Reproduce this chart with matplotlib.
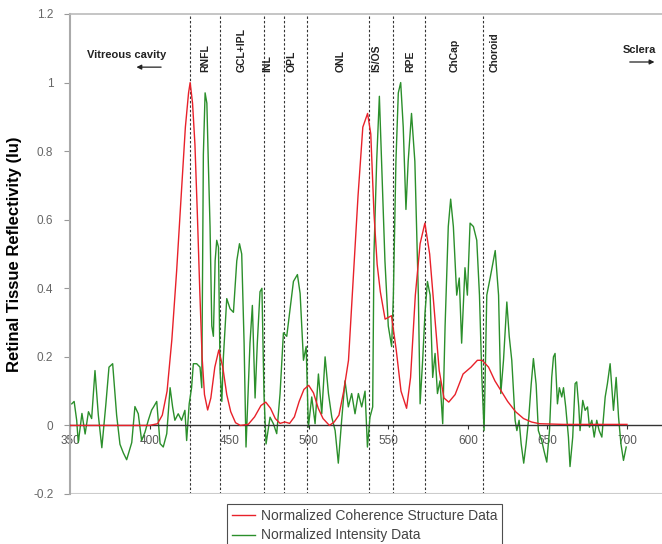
import matplotlib

matplotlib.use("Agg")
import matplotlib.pyplot as plt

# Normalized coherence structure data (red)
coherence_x = [350, 400, 405, 408, 411, 414, 417, 420, 422.5, 424.5, 425.5, 427, 428.5, 430,
               431.5, 433, 434.5, 436.5, 438.5, 441, 443.5, 446, 448.5, 451, 454, 457, 462, 466,
               470, 473, 476, 479, 482, 485, 488, 491, 494, 497, 500, 503, 506, 509, 513, 516,
               519, 522, 525, 528, 531, 534, 537, 539, 541, 543, 545, 548, 552, 555, 558, 561.5,
               564, 567, 570, 573, 576, 579, 582, 585, 588, 592, 597, 602, 606, 609, 613, 617,
               621, 625, 630, 635, 640, 645, 660, 700]
coherence_y = [0, 0, 0.005, 0.03, 0.10, 0.25, 0.45, 0.68, 0.87, 0.97, 1.0, 0.94, 0.82, 0.62,
               0.40, 0.20, 0.09, 0.045, 0.08, 0.17, 0.22, 0.17, 0.09, 0.04, 0.008, 0, 0.003, 0.025,
               0.058, 0.068, 0.05, 0.02, 0.006, 0.01, 0.006, 0.025, 0.07, 0.105, 0.117, 0.095,
               0.05, 0.02, 0, 0.01, 0.03, 0.1, 0.19, 0.43, 0.67, 0.87, 0.91, 0.85, 0.62, 0.47,
               0.39, 0.31, 0.32, 0.22, 0.10, 0.05, 0.14, 0.38, 0.53, 0.59, 0.50, 0.33, 0.16, 0.08,
               0.068, 0.09, 0.15, 0.17, 0.19, 0.19, 0.17, 0.13, 0.10, 0.07, 0.04, 0.02, 0.01,
               0.005, 0.003, 0.003]

# Normalized intensity data (green)
intensity_x = [351.1, 352.6, 354.2, 355.2, 357.5, 359.5, 361.6, 363.6, 365.7, 367.8, 370,
               372.5, 374.5, 376.8, 379.3, 381.4, 383.5, 385.6, 388.8, 390.8, 392.9, 395, 397.1,
               399.2, 401.3, 402.4, 404.5, 406.6, 408.6, 410.8, 412.9, 414.5, 415.9, 418, 420.1,
               422.2, 423.3, 424.9, 426.4, 427.5, 429.6, 431.7, 432.8, 433.8, 434.9, 436, 436.9,
               438, 439.1, 440.1, 441.2, 442.2, 443.3, 444.3, 445.4, 446.4, 448.5, 450.6, 452.7,
               454.8, 456.5, 457.9, 459.4, 460.6, 463.1, 464.6, 466.3, 467.7, 469.4, 470.6,
               471.9, 473.2, 475.7, 477.8, 479.9, 482, 484.1, 486.2, 488.3, 490.4, 492.9, 494.6,
               496.7, 498.4, 499.8, 501.9, 504, 506.1, 508.2, 510.3, 512.4, 514.5, 516.6, 518.6,
               520.7, 522.8, 524.9, 527, 529.1, 531.2, 533.3, 535.4, 536.9, 538.5, 540.2, 541,
               542.7, 544.4, 545.8, 547.9, 550, 552.1, 553.2, 554.8, 556.3, 557.8, 559.4, 561.1,
               562.5, 564.6, 566.7, 568.9, 570, 571.6, 573.1, 574.6, 576.3, 577.9, 579.4, 580.9,
               582.5, 584.2, 585.7, 587.7, 589.2, 590.9, 593, 594.6, 596.1, 598.2, 599.7, 601.4,
               603.5, 605.6, 607.3, 608.8, 610.2, 611.9, 614, 617.2, 619.3, 620.7, 622.4, 624.5,
               626, 627.6, 628.7, 629.7, 630.8, 632.2, 633.5, 635.1, 636.6, 638.3, 639.8, 641.2,
               642.9, 644.3, 646.4, 647.8, 649.6, 651.3, 652.7, 653.8, 654.8, 656.3, 657.5, 659,
               660.1, 661.5, 663.2, 664.2, 665.9, 667.4, 668.4, 669.7, 670.5, 672.2, 673.7,
               675.2, 676.4, 677.9, 679.4, 681, 682.5, 684.2, 686.3, 687.7, 689.4, 691.5, 693.2,
               694.7, 696.2, 697.8, 699.5]
intensity_y = [0.063, 0.07, 0.015, -0.05, 0.035, -0.025, 0.04, 0.02, 0.16, 0.03, -0.065, 0.06,
               0.17, 0.18, 0.03, -0.055, -0.08, -0.10, -0.05, 0.055, 0.034, -0.044, -0.02, 0.015,
               0.045, 0.053, 0.07, -0.053, -0.063, -0.024, 0.11, 0.053, 0.015, 0.034, 0.015,
               0.044, -0.044, 0.063, 0.11, 0.18, 0.18, 0.17, 0.11, 0.79, 0.97, 0.94, 0.77, 0.58,
               0.29, 0.26, 0.48, 0.54, 0.52, 0.16, 0.07, 0.2, 0.37, 0.34, 0.33, 0.48, 0.53, 0.50,
               0.24, -0.063, 0.24, 0.35, 0.08, 0.24, 0.39, 0.40, 0.09, -0.054, 0.024, 0.005,
               -0.024, 0.093, 0.27, 0.26, 0.34, 0.42, 0.44, 0.385, 0.19, 0.23, -0.005, 0.083,
               0.005, 0.15, 0.034, 0.2, 0.093, 0.024, -0.015, -0.11, 0.015, 0.13, 0.054, 0.093,
               0.034, 0.093, 0.054, 0.1, -0.063, 0.024, 0.054, 0.5, 0.77, 0.96, 0.77, 0.48, 0.29,
               0.23, 0.38, 0.77, 0.97, 1.0, 0.87, 0.63, 0.77, 0.91, 0.77, 0.38, 0.063, 0.19, 0.33,
               0.42, 0.38, 0.14, 0.21, 0.093, 0.13, 0.005, 0.29, 0.58, 0.66, 0.58, 0.38, 0.43,
               0.24, 0.46, 0.38, 0.59, 0.58, 0.54, 0.38, 0.14, -0.015, 0.38, 0.43, 0.51, 0.38,
               0.093, 0.19, 0.36, 0.26, 0.19, 0.10, 0.015, -0.015, 0.015, -0.054, -0.11, -0.054,
               0.024, 0.12, 0.195, 0.12, -0.015, -0.044, -0.073, -0.107, -0.015, 0.14, 0.2, 0.21,
               0.063, 0.11, 0.083, 0.11, 0.054, -0.034, -0.12, -0.034, 0.122, 0.127, 0.054,
               -0.015, 0.073, 0.044, 0.054, -0.005, 0.015, -0.034, 0.015, -0.015, -0.034, 0.083,
               0.122, 0.18, 0.044, 0.14, 0.024, -0.054, -0.102, -0.063]

# Retinal layer boundaries and labels
boundary_x = [425.4, 444.4, 471.6, 484.5, 498.9, 537.6, 552.9, 573.2, 609.6]
layer_labels = ["RNFL", "GCL+IPL", "INL", "OPL", "ONL", "IS/OS", "RPE", "ChCap", "Choroid"]
layer_label_x = [434.8, 457.9, 473.8, 489.3, 520.3, 542.7, 563.6, 591.9, 617.1]

x_ticks = [350, 400, 450, 500, 550, 600, 650, 700]
y_ticks = [-0.2, 0, 0.2, 0.4, 0.6, 0.8, 1, 1.2]
y_tick_labels = ["-0.2", "0", "0.2", "0.4", "0.6", "0.8", "1", "1.2"]

RED = "#e8212a"
GREEN = "#2b8f2b"
narrow = ["Liberation Sans Narrow", "Liberation Sans", "DejaVu Sans"]

fig = plt.figure(figsize=(6.62, 5.44), dpi=100)
ax = fig.add_axes([70 / 662, 50 / 544, 592 / 662, 480 / 544])

ax.set_xlim(350, 722)
ax.set_ylim(-0.2, 1.2)

for x in boundary_x:
    ax.axvline(x, color="#333333", linewidth=0.8, linestyle=(0, (2.2, 1.8)), zorder=1)

green_line, = ax.plot(intensity_x, intensity_y, color=GREEN, linewidth=1.0, zorder=2)
red_line, = ax.plot(coherence_x, coherence_y, color=RED, linewidth=1.0, zorder=3)

# axis styling: zero-line axis with ticks, grey frame lines
ax.spines["right"].set_visible(False)
ax.spines["top"].set_color("#bbbbbb")
ax.spines["top"].set_linewidth(1.2)
ax.spines["left"].set_color("#aaaaaa")
ax.spines["left"].set_linewidth(1.5)
ax.spines["bottom"].set_position(("data", 0))
ax.spines["bottom"].set_color("#333333")
ax.spines["bottom"].set_linewidth(1.0)
ax.axhline(-0.2, color="#cccccc", linewidth=1.5, zorder=1)

ax.set_xticks(x_ticks)
ax.set_xticklabels([str(t) for t in x_ticks], fontsize=8.5, color="#555555",
                   family=narrow)
ax.tick_params(axis="x", length=3, color="#333333", pad=4)
ax.set_yticks(y_ticks)
ax.set_yticklabels(y_tick_labels, fontsize=8.5, color="#666666", family=narrow)
ax.tick_params(axis="y", length=4, color="#999999", pad=8)

ax.set_ylabel("Retinal Tissue Reflectivity (Iu)", fontsize=12, fontweight="bold",
              family=["Liberation Sans", "DejaVu Sans"], labelpad=8)

for label, x in zip(layer_labels, layer_label_x):
    ax.text(x, 1.03, label, rotation=90, ha="center", va="bottom", fontsize=7.5,
            fontweight="bold", family=narrow, color="#222222")

ax.text(385.5, 1.08, "Vitreous cavity", ha="center", va="center", fontsize=8,
        fontweight="bold", family=narrow, color="#222222")
ax.annotate("", xy=(390, 1.045), xytext=(409, 1.045),
            arrowprops=dict(arrowstyle="-|>", color="#222222", lw=0.9, mutation_scale=7))
ax.text(708, 1.095, "Sclera", ha="center", va="center", fontsize=8, fontweight="bold",
        family=narrow, color="#222222")
ax.annotate("", xy=(719, 1.06), xytext=(700, 1.06),
            arrowprops=dict(arrowstyle="-|>", color="#222222", lw=0.9, mutation_scale=7))

leg = fig.legend([red_line, green_line],
                 ["Normalized Coherence Structure Data", "Normalized Intensity Data"],
                 loc="upper center", bbox_to_anchor=(364.5 / 662, 1 - 497 / 544),
                 frameon=True, fancybox=False, handlelength=1.7,
                 handletextpad=0.4, borderpad=0.35, labelspacing=0.4,
                 prop={"family": ["Liberation Sans", "DejaVu Sans"], "size": 10})
leg.get_frame().set_edgecolor("#222222")
leg.get_frame().set_linewidth(0.8)
for text in leg.get_texts():
    text.set_color("#444444")

fig.savefig("out.png", dpi=100)
